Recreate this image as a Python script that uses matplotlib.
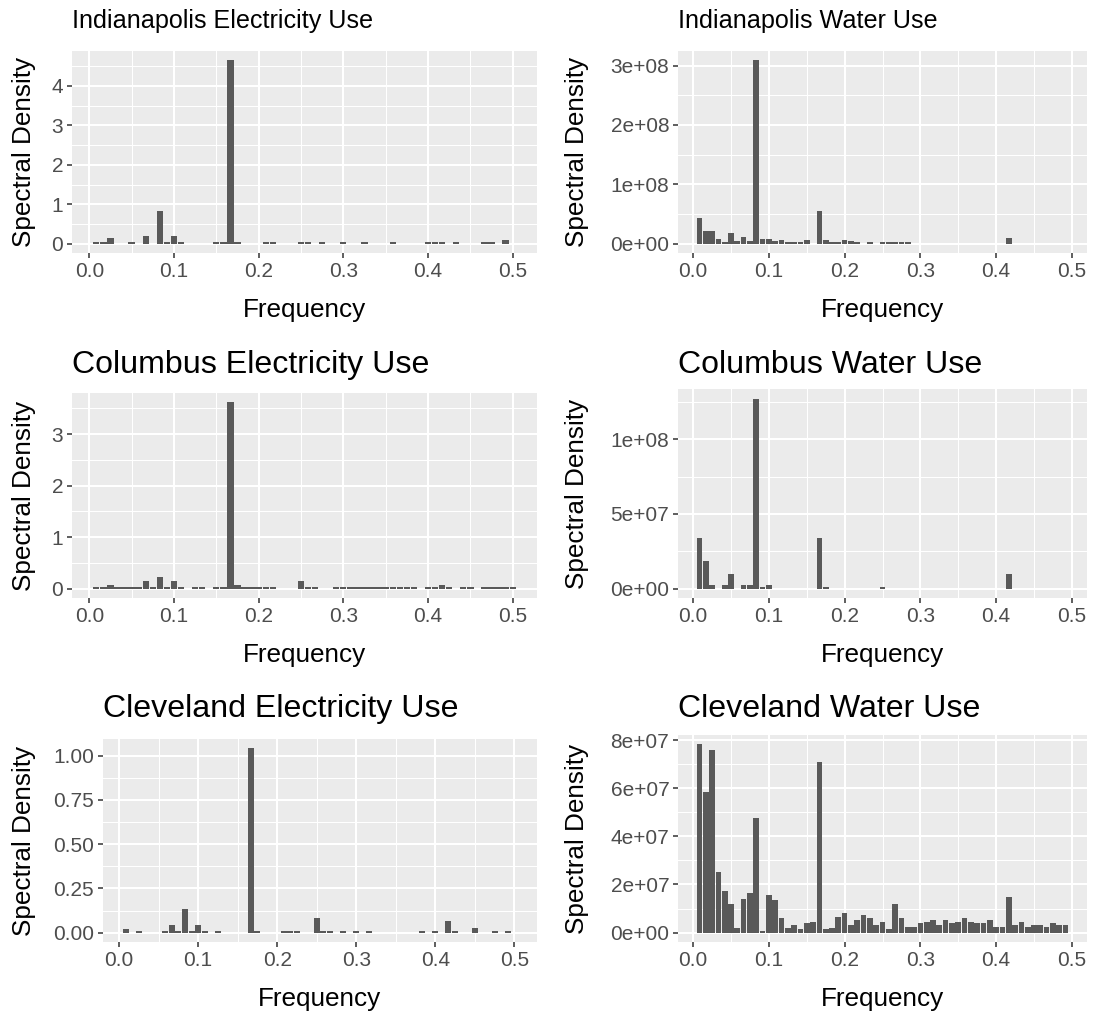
import numpy as np
import matplotlib
matplotlib.use("Agg")
import matplotlib.pyplot as plt
from matplotlib.ticker import FixedLocator

plt.rcParams['font.family'] = ['Liberation Sans', 'DejaVu Sans']

# spectral density, one value per Fourier frequency k/120
indy_elec = [0.04, 0.04, 0.135, 0, 0, 0.04, 0, 0.19, 0, 0.82,
             0.04, 0.19, 0.04, 0, 0, 0, 0, 0.04, 0.04, 4.65,
             0.04, 0, 0, 0, 0.04, 0.04, 0, 0, 0, 0.04,
             0.04, 0, 0.04, 0, 0, 0.04, 0, 0, 0.04, 0,
             0, 0, 0.04, 0, 0, 0, 0, 0.04, 0.04, 0.04,
             0, 0.04, 0, 0, 0, 0.04, 0.04, 0, 0.085, 0]
indy_water = [0.43, 0.21, 0.21, 0.08, 0.03, 0.18, 0.04, 0.12, 0.04, 3.09,
              0.085, 0.085, 0.05, 0.065, 0.035, 0.035, 0.035, 0.07, 0, 0.55,
              0.065, 0.035, 0.035, 0.065, 0.045, 0.03, 0, 0.03, 0, 0.03,
              0.03, 0.03, 0.03, 0.03, 0, 0, 0, 0, 0, 0,
              0, 0, 0, 0, 0, 0, 0, 0, 0, 0.09,
              0, 0, 0, 0, 0, 0, 0, 0, 0]  # x 1e8
col_elec = [0.04, 0.04, 0.08, 0.04, 0.04, 0.04, 0.04, 0.14, 0.04, 0.22,
            0.04, 0.14, 0.04, 0, 0.04, 0.04, 0, 0.04, 0.04, 3.62,
            0.08, 0.04, 0.04, 0.04, 0.04, 0.04, 0, 0, 0, 0.14,
            0.04, 0.04, 0, 0, 0.04, 0.04, 0.04, 0.04, 0.04, 0.04,
            0.04, 0.04, 0.04, 0.04, 0.04, 0.04, 0, 0.04, 0.04, 0.07,
            0.04, 0, 0.04, 0.04, 0, 0.04, 0.04, 0.04, 0.04, 0.04]
col_water = [3.39, 1.82, 0.22, 0, 0.22, 0.96, 0, 0.22, 0.22, 12.74,
             0.13, 0.22, 0, 0, 0, 0, 0, 0, 0, 3.39,
             0.11, 0, 0, 0, 0, 0, 0, 0, 0, 0.11,
             0, 0, 0, 0, 0, 0, 0, 0, 0, 0,
             0, 0, 0, 0, 0, 0, 0, 0, 0, 0.96,
             0, 0, 0, 0, 0, 0, 0, 0, 0]  # x 1e7
clev_elec = [0.023, 0, 0.012, 0, 0, 0, 0.012, 0.045, 0.012, 0.136,
             0.012, 0.045, 0.012, 0, 0.012, 0, 0, 0, 0, 1.042,
             0.012, 0, 0, 0, 0.012, 0.012, 0.012, 0, 0, 0.085,
             0.012, 0.012, 0, 0.012, 0, 0.012, 0, 0.012, 0, 0,
             0, 0, 0, 0, 0, 0.012, 0, 0.012, 0, 0.066,
             0.012, 0, 0, 0.025, 0, 0, 0.012, 0, 0.012, 0]
clev_water = [7.82, 5.83, 7.59, 2.52, 1.71, 1.2, 0.21, 1.41, 1.64, 4.77,
              0.07, 1.57, 1.34, 0.59, 0.21, 0.3, 0.15, 0.39, 0.44, 7.08,
              0.14, 0.21, 0.66, 0.83, 0.3, 0.53, 0.75, 0.61, 0.3, 0.46,
              0.17, 1.2, 0.61, 0.23, 0.23, 0.4, 0.46, 0.52, 0.3, 0.52,
              0.39, 0.46, 0.59, 0.44, 0.39, 0.39, 0.52, 0.22, 0.22, 1.49,
              0.3, 0.46, 0.22, 0.3, 0.3, 0.22, 0.39, 0.3, 0.3]  # x 1e7

titles = ["Indianapolis Electricity Use", "Indianapolis Water Use",
          "Columbus Electricity Use", "Columbus Water Use",
          "Cleveland Electricity Use", "Cleveland Water Use"]
series = [np.array(indy_elec), np.array(indy_water) * 1e8,
          np.array(col_elec), np.array(col_water) * 1e7,
          np.array(clev_elec), np.array(clev_water) * 1e7]
ybreaks = [[0, 1, 2, 3, 4], [0, 1e8, 2e8, 3e8],
           [0, 1, 2, 3], [0, 5e7, 1e8],
           [0, 0.25, 0.5, 0.75, 1.0], [0, 2e7, 4e7, 6e7, 8e7]]
ylabels = [["0", "1", "2", "3", "4"], ["0e+00", "1e+08", "2e+08", "3e+08"],
           ["0", "1", "2", "3"], ["0e+00", "5e+07", "1e+08"],
           ["0.00", "0.25", "0.50", "0.75", "1.00"],
           ["0e+00", "2e+07", "4e+07", "6e+07", "8e+07"]]
xbreaks = [0, 0.1, 0.2, 0.3, 0.4, 0.5]
xlabels = ["0.0", "0.1", "0.2", "0.3", "0.4", "0.5"]

# panel boxes in pixels: left, top, right, bottom
boxes = [(72, 51, 537, 253), (678, 51, 1087, 253),
         (72, 393, 537, 598), (678, 389, 1087, 598),
         (103, 739, 537, 942), (678, 735, 1087, 942)]
title_y = [21, 21, 365, 365, 709, 709]
title_size = [18.1, 18.1, 23.1, 23.1, 23.1, 23.1]

W, H = 1094, 1019
fig = plt.figure(figsize=(W / 100, H / 100), dpi=100)
fig.patch.set_facecolor('white')

for i in range(6):
    l, t, r, b = boxes[i]
    ax = fig.add_axes([l / W, 1 - b / H, (r - l) / W, (b - t) / H])
    y = series[i]
    n = len(y)
    freq = np.arange(1, n + 1) / 120
    bw = 0.9 / 120
    ax.bar(freq, y, width=bw, color='#595959', linewidth=0, zorder=3)

    x0, x1 = freq[0] - bw / 2, freq[-1] + bw / 2
    pad = (x1 - x0) * 0.05
    ax.set_xlim(x0 - pad, x1 + pad)
    ymax = y.max()
    ax.set_ylim(-0.05 * ymax, 1.05 * ymax)

    ax.set_facecolor('#EBEBEB')
    for s in ax.spines.values():
        s.set_visible(False)
    ax.set_axisbelow(True)
    yb = ybreaks[i]
    step = yb[1] - yb[0]
    ax.xaxis.set_major_locator(FixedLocator(xbreaks))
    ax.set_xticklabels(xlabels)
    ax.xaxis.set_minor_locator(FixedLocator(np.arange(0.05, 0.5, 0.1)))
    ax.yaxis.set_major_locator(FixedLocator(yb))
    ax.set_yticklabels(ylabels[i])
    ax.yaxis.set_minor_locator(FixedLocator(np.arange(step / 2, 1.05 * ymax, step)))
    ax.grid(which='major', color='white', linewidth=1.5)
    ax.grid(which='minor', color='white', linewidth=0.75)
    ax.tick_params(which='major', length=3.8, width=1.1, color='#333333',
                   labelcolor='#4D4D4D', labelsize=15, pad=2.5)
    ax.tick_params(which='minor', length=0)

    fig.text(l / W, 1 - title_y[i] / H, titles[i], fontsize=title_size[i],
             ha='left', va='center', color='black')
    fig.text((l + r) / 2 / W, 1 - (b + 57) / H, "Frequency", fontsize=18.8,
             ha='center', va='center', color='black')
    yl_x = 24 if i % 2 == 0 else 577
    fig.text(yl_x / W, 1 - (t + b) / 2 / H, "Spectral Density", fontsize=18.8,
             rotation=90, ha='center', va='center', color='black')

fig.savefig("out.png", dpi=100)
